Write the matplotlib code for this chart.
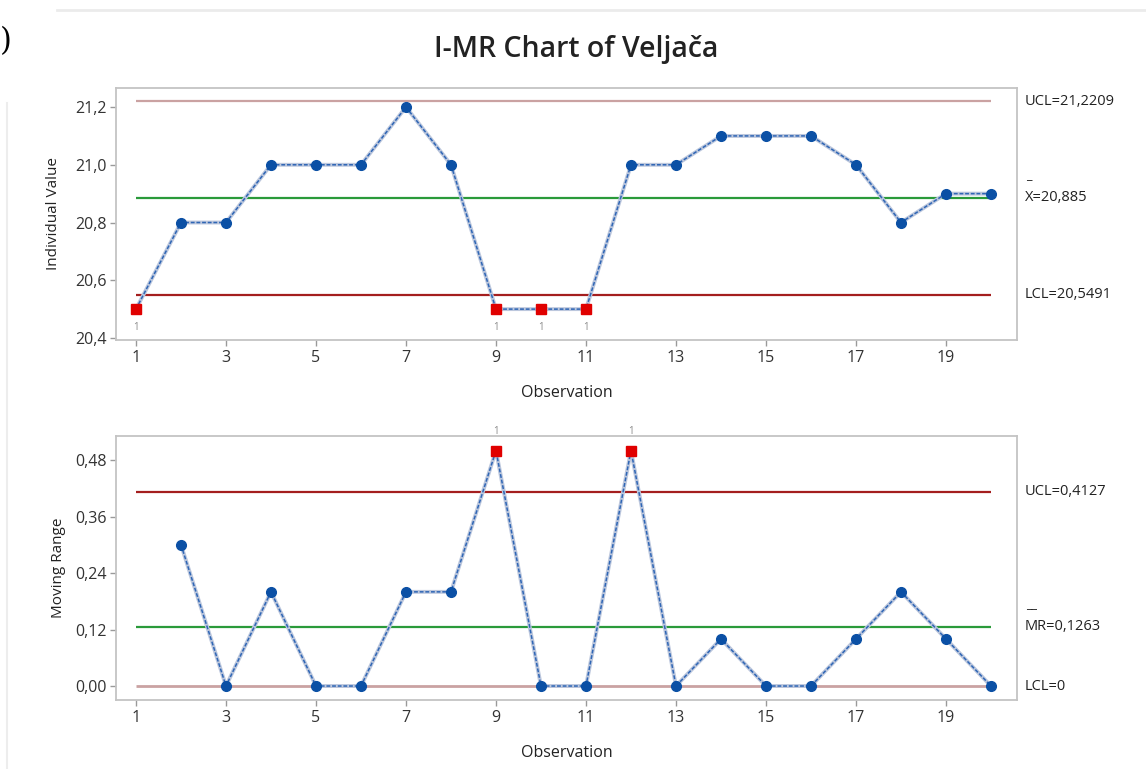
import matplotlib
matplotlib.use('Agg')
import matplotlib.pyplot as plt
import matplotlib.transforms as mtransforms
from matplotlib.lines import Line2D
import numpy as np

plt.rcParams['font.family'] = ['Open Sans', 'DejaVu Sans']

# Data: February observations (Veljača)
observations = list(range(1, 21))
individual = [20.5, 20.8, 20.8, 21.0, 21.0, 21.0, 21.2, 21.0, 20.5, 20.5,
              20.5, 21.0, 21.0, 21.1, 21.1, 21.1, 21.0, 20.8, 20.9, 20.9]
mr_obs = list(range(2, 21))
moving_range = [0.3, 0.0, 0.2, 0.0, 0.0, 0.2, 0.2, 0.5, 0.0, 0.0,
                0.5, 0.0, 0.1, 0.0, 0.0, 0.1, 0.2, 0.1, 0.0]

i_limits = {'UCL': 21.2209, 'CL': 20.885, 'LCL': 20.5491}
mr_limits = {'UCL': 0.4127, 'CL': 0.1263, 'LCL': 0.0}

i_flagged = [1, 9, 10, 11]
mr_flagged = [9, 12]

i_yticks = [20.4, 20.6, 20.8, 21.0, 21.2]
mr_yticks = [0.0, 0.12, 0.24, 0.36, 0.48]
xticks = list(range(1, 20, 2))

BLUE = '#0b50a5'
HALO = '#bcc7dd'
RED = '#e00000'
DARK_RED = '#a41e1e'
PINK = '#caa2a2'
GREEN = '#2a9a3a'
SPINE = '#c4c4c4'


def comma(v, nd):
    return f'{v:.{nd}f}'.replace('.', ',')


def draw_series(ax, x, y, flagged):
    ax.plot(x, y, color=HALO, lw=2.8, zorder=2, solid_capstyle='round')
    ax.plot(x, y, color='#2f66b5', lw=1.1, ls=(0, (2.5, 1.2)), zorder=3)
    ok = [(a, b) for a, b in zip(x, y) if a not in flagged]
    bad = [(a, b) for a, b in zip(x, y) if a in flagged]
    ax.plot([p[0] for p in ok], [p[1] for p in ok], 'o', color=BLUE, ms=7,
            zorder=4, clip_on=False)
    ax.plot([p[0] for p in bad], [p[1] for p in bad], 's', color=RED, ms=6.5,
            zorder=4, clip_on=False)
    return bad


def style_axes(ax, yticks, nd, ylim):
    ax.set_xlim(0.556, 20.578)
    ax.set_ylim(*ylim)
    ax.set_xticks(xticks)
    ax.set_yticks(yticks)
    ax.set_yticklabels([comma(v, nd) for v in yticks])
    for s in ax.spines.values():
        s.set_color(SPINE)
        s.set_linewidth(1.3)
    ax.tick_params(direction='out', length=4, width=1, color='#9a9a9a',
                   labelsize=11.5, labelcolor='#333333', pad=3)
    ax.set_xlabel('Observation', fontsize=11.5, color='#222222', labelpad=14)


fig = plt.figure(figsize=(11.46, 7.69), dpi=100)
W, H = 1146, 769
ax1 = fig.add_axes([116 / W, 1 - 340 / H, 901 / W, 252 / H])
ax2 = fig.add_axes([116 / W, 1 - 700 / H, 901 / W, 264 / H])

# Individual values chart
ax1.hlines(i_limits['UCL'], 1, 20, color=PINK, lw=1.6, zorder=1)
ax1.hlines(i_limits['CL'], 1, 20, color=GREEN, lw=1.6, zorder=1)
ax1.hlines(i_limits['LCL'], 1, 20, color=DARK_RED, lw=1.6, zorder=1)
bad1 = draw_series(ax1, observations, individual, i_flagged)
for xb, yb in bad1:
    ax1.annotate('1', (xb, yb), xytext=(0, -13), textcoords='offset points',
                 ha='center', va='center', fontsize=7, color='#8a8a8a')
style_axes(ax1, i_yticks, 1, (20.393, 21.266))
ax1.set_ylabel('Individual Value', fontsize=11, color='#222222', labelpad=10)

# Moving range chart
ax2.hlines(mr_limits['UCL'], 1, 20, color=DARK_RED, lw=1.6, zorder=1)
ax2.hlines(mr_limits['CL'], 1, 20, color=GREEN, lw=1.6, zorder=1)
ax2.hlines(mr_limits['LCL'], 1, 20, color=PINK, lw=2.0, zorder=1)
bad2 = draw_series(ax2, mr_obs, moving_range, mr_flagged)
for xb, yb in bad2:
    ax2.annotate('1', (xb, yb), xytext=(0, 14), textcoords='offset points',
                 ha='center', va='center', fontsize=7, color='#8a8a8a',
                 annotation_clip=False)
style_axes(ax2, mr_yticks, 2, (-0.0297, 0.531))
ax2.set_ylabel('Moving Range', fontsize=11, color='#222222', labelpad=6)

# Limit labels on the right
for ax, lim, txt in [
        (ax1, i_limits['UCL'], 'UCL=' + comma(i_limits['UCL'], 4)),
        (ax1, i_limits['CL'], 'X=' + comma(i_limits['CL'], 3)),
        (ax1, i_limits['LCL'], 'LCL=' + comma(i_limits['LCL'], 4)),
        (ax2, mr_limits['UCL'], 'UCL=' + comma(mr_limits['UCL'], 4)),
        (ax2, mr_limits['CL'], 'MR=' + comma(mr_limits['CL'], 4)),
        (ax2, mr_limits['LCL'], 'LCL=0')]:
    tr = mtransforms.blended_transform_factory(ax.transAxes, ax.transData)
    ax.text(1.009, lim, txt, transform=tr, ha='left', va='center',
            fontsize=10.5, color='#222222')
tr1 = mtransforms.blended_transform_factory(ax1.transAxes, ax1.transData)
ax1.annotate('_', (1.009, i_limits['CL']), xycoords=tr1, xytext=(1, 16),
             textcoords='offset points', ha='left', va='center',
             fontsize=9, color='#222222')
tr2 = mtransforms.blended_transform_factory(ax2.transAxes, ax2.transData)
ax2.annotate('__', (1.009, mr_limits['CL']), xycoords=tr2, xytext=(1, 16),
             textcoords='offset points', ha='left', va='center',
             fontsize=9, color='#222222')

fig.text(576 / W, 1 - 49 / H, 'I-MR Chart of Veljača', ha='center',
         va='center', fontsize=20.5, fontweight='semibold', color='#222222')

# Surrounding page frame pieces
fig.text(0, 1 - 42 / H, ')', ha='left', va='center', fontsize=22,
         family='DejaVu Serif', color='black')
fig.add_artist(Line2D([57 / W, 1], [1 - 10 / H, 1 - 10 / H], color='#ebebeb',
                      lw=2, transform=fig.transFigure))
fig.add_artist(Line2D([7 / W, 7 / W], [1 - 103 / H, 0], color='#ededed',
                      lw=1.5, transform=fig.transFigure))

fig.savefig('out.png', dpi=100, facecolor='white')
